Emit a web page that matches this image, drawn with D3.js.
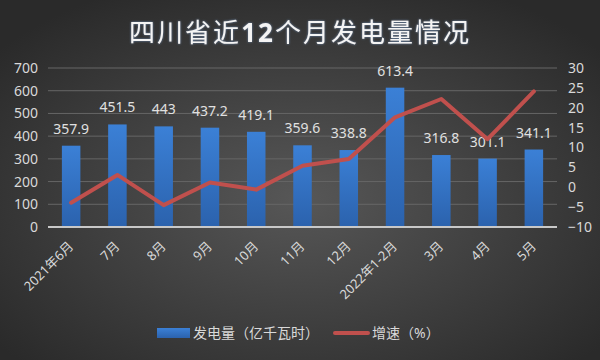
<!DOCTYPE html>
<html>
<head>
<meta charset="utf-8">
<script src="https://cdn.jsdelivr.net/npm/d3@7"></script>
<style>
  body { margin: 0; background: #333; }
  svg { display: block; }
</style>
</head>
<body>
<div id="chart"></div>
<script>
// months, power output (亿千瓦时) and growth (%)
const months = ["2021年6月", "7月", "8月", "9月", "10月", "11月", "12月", "2022年1-2月", "3月", "4月", "5月"];
const output = [357.9, 451.5, 443, 437.2, 419.1, 359.6, 338.8, 613.4, 316.8, 301.1, 341.1];
const growth = [-3.9, 3.1, -4.5, 1.2, -0.6, 5.4, 7.1, 17.6, 22.2, 12.1, 24.1];
const leftTicks = [0, 100, 200, 300, 400, 500, 600, 700];
const rightTicks = [-10, -5, 0, 5, 10, 15, 20, 25, 30];

const width = 600, height = 360;
const font = "'Noto Sans', 'Noto Sans CJK SC', sans-serif";

const svg = d3.select("#chart").append("svg")
    .attr("width", width)
    .attr("height", height);

const defs = svg.append("defs");
const bg = defs.append("radialGradient").attr("id", "bg")
    .attr("cx", "50%").attr("cy", "55%").attr("r", "65%");
bg.append("stop").attr("offset", "0%").attr("stop-color", "#575757");
bg.append("stop").attr("offset", "100%").attr("stop-color", "#2a2a2a");

const barGrad = defs.append("linearGradient").attr("id", "barGrad")
    .attr("x1", 0).attr("y1", 0).attr("x2", 0).attr("y2", 1);
barGrad.append("stop").attr("offset", "0%").attr("stop-color", "#3b80d6");
barGrad.append("stop").attr("offset", "100%").attr("stop-color", "#2b62ad");

const glow = defs.append("filter").attr("id", "glow");
glow.append("feDropShadow").attr("dx", 0).attr("dy", 0).attr("stdDeviation", 1.2)
    .attr("flood-color", "#6f8fb8").attr("flood-opacity", 0.9);

svg.append("rect").attr("width", width).attr("height", height).attr("fill", "url(#bg)");

// title
const title = svg.append("text")
    .attr("x", 300).attr("y", 42)
    .attr("text-anchor", "middle")
    .attr("fill", "#f4f4f4")
    .attr("font-family", font)
    .attr("font-size", 26)
    .attr("letter-spacing", 2)
    .attr("filter", "url(#glow)");
title.append("tspan").text("四川省近");
title.append("tspan").attr("font-weight", "bold").text("12");
title.append("tspan").text("个月发电量情况");

// scales
const x = d3.scaleBand().domain(months).range([48, 557]).paddingInner(0.6).paddingOuter(0.3);
const yL = d3.scaleLinear().domain([0, 700]).range([227, 68]);
const yR = d3.scaleLinear().domain([-10, 30]).range([227, 68]);

// gridlines
svg.append("g").selectAll("line")
    .data(leftTicks.slice(1))
    .enter().append("line")
    .attr("x1", 48).attr("x2", 557)
    .attr("y1", d => yL(d)).attr("y2", d => yL(d))
    .attr("stroke", "#666").attr("stroke-width", 1);

// left axis
const axisL = svg.append("g")
    .attr("transform", "translate(48,0)")
    .call(d3.axisLeft(yL).tickValues(leftTicks).tickSize(0).tickPadding(10));
axisL.select(".domain").remove();
axisL.selectAll("text").attr("fill", "#d9d9d9").attr("font-size", 14).attr("font-family", font);

// right axis
const axisR = svg.append("g")
    .attr("transform", "translate(557,0)")
    .call(d3.axisRight(yR).tickValues(rightTicks).tickSize(0).tickPadding(11));
axisR.select(".domain").remove();
axisR.selectAll("text").attr("fill", "#d9d9d9").attr("font-size", 14).attr("font-family", font);

// bars
svg.append("g").selectAll("rect")
    .data(output)
    .enter().append("rect")
    .attr("x", (d, i) => x(months[i]))
    .attr("width", x.bandwidth())
    .attr("y", d => yL(d))
    .attr("height", d => yL(0) - yL(d))
    .attr("fill", "url(#barGrad)");

// baseline
svg.append("line")
    .attr("x1", 48).attr("x2", 557)
    .attr("y1", yL(0)).attr("y2", yL(0))
    .attr("stroke", "#c8c8c8").attr("stroke-width", 2);

// bar labels
svg.append("g").selectAll("text")
    .data(output)
    .enter().append("text")
    .attr("x", (d, i) => x(months[i]) + x.bandwidth() / 2)
    .attr("y", d => yL(d) - 12)
    .attr("text-anchor", "middle")
    .attr("fill", "#e0e0e0")
    .attr("font-size", 14)
    .attr("font-family", font)
    .text(d => d);

// growth line
const line = d3.line()
    .x((d, i) => x(months[i]) + x.bandwidth() / 2)
    .y(d => yR(d));
svg.append("path")
    .datum(growth)
    .attr("d", line)
    .attr("fill", "none")
    .attr("stroke", "#c0504d")
    .attr("stroke-width", 4)
    .attr("stroke-linejoin", "round")
    .attr("stroke-linecap", "round");

// x labels
svg.append("g").selectAll("text")
    .data(months)
    .enter().append("text")
    .attr("transform", d => `translate(${x(d) + x.bandwidth() / 2 + 3},247) rotate(-45)`)
    .attr("text-anchor", "end")
    .attr("fill", "#d9d9d9")
    .attr("font-size", 13)
    .attr("font-family", font)
    .text(d => d);

// legend
const legend = svg.append("g").attr("font-family", font).attr("font-size", 14).attr("fill", "#d9d9d9");
legend.append("rect").attr("x", 157).attr("y", 328).attr("width", 33).attr("height", 10).attr("fill", "url(#barGrad)");
legend.append("text").attr("x", 193).attr("y", 338).text("发电量（亿千瓦时）");
legend.append("line").attr("x1", 335).attr("x2", 368).attr("y1", 333).attr("y2", 333)
    .attr("stroke", "#c0504d").attr("stroke-width", 4).attr("stroke-linecap", "round");
legend.append("text").attr("x", 372).attr("y", 338).text("增速（%）");
</script>
</body>
</html>
